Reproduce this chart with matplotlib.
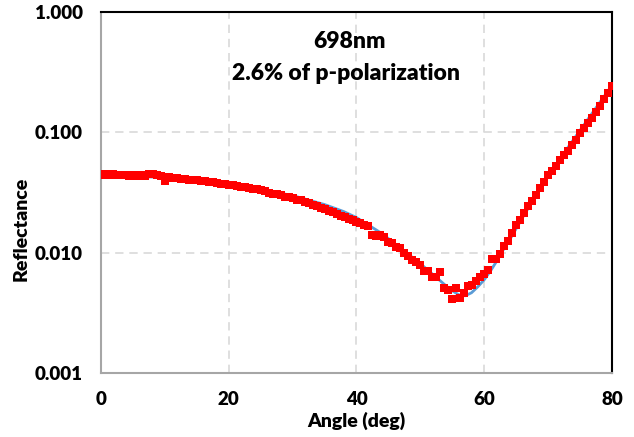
import numpy as np
import matplotlib
matplotlib.use("Agg")
import matplotlib.pyplot as plt
from matplotlib.ticker import FixedLocator, NullLocator, FuncFormatter

plt.rcParams["font.family"] = ["Lato", "DejaVu Sans"]
plt.rcParams["font.weight"] = "bold"

# measured points (angle in deg, reflectance)
angle = [0.0, 0.625, 1.25, 1.875, 2.5, 3.125, 3.75, 4.375,
         5.0, 5.625, 6.25, 6.875, 7.5, 8.125, 8.75, 9.375,
         10.0, 10.625, 11.25, 11.875, 12.5, 13.125, 13.75, 14.375,
         15.0, 15.625, 16.25, 16.875, 17.5, 18.125, 18.75, 19.375,
         20.0, 20.625, 21.25, 21.875, 22.5, 23.125, 23.75, 24.375,
         25.0, 25.625, 26.25, 26.875, 27.5, 28.125, 28.75, 29.375,
         30.0, 30.625, 31.25, 31.875, 32.5, 33.125, 33.75, 34.375,
         35.0, 35.625, 36.25, 36.875, 37.5, 38.125, 38.75, 39.375,
         40.0, 40.625, 41.25, 41.875, 42.5, 43.125, 43.75, 44.375,
         45.0, 45.625, 46.25, 46.875, 47.5, 48.125, 48.75, 49.375,
         50.0, 50.625, 51.25, 51.875, 52.5, 53.125, 53.75, 54.375,
         55.0, 55.625, 56.25, 56.875, 57.5, 58.125, 58.75, 59.375,
         60.0, 60.625, 61.25, 61.875, 62.5, 63.125, 63.75, 64.375,
         65.0, 65.625, 66.25, 66.875, 67.5, 68.125, 68.75, 69.375,
         70.0, 70.625, 71.25, 71.875, 72.5, 73.125, 73.75, 74.375,
         75.0, 75.625, 76.25, 76.875, 77.5, 78.125, 78.75, 79.375,
         80.0]
reflectance = [0.04382, 0.04467, 0.04382, 0.04467, 0.04382, 0.04424, 0.04382, 0.04299,
               0.04382, 0.04299, 0.04382, 0.04340, 0.04467, 0.04510, 0.04382, 0.04299,
               0.03906, 0.04217, 0.04137, 0.04137, 0.04058, 0.04058, 0.03981, 0.04020,
               0.03981, 0.03906, 0.03906, 0.03831, 0.03831, 0.03758, 0.03687, 0.03687,
               0.03617, 0.03617, 0.03548, 0.03481, 0.03481, 0.03415, 0.03350, 0.03350,
               0.03286, 0.03224, 0.03162, 0.03102, 0.03102, 0.03043, 0.02929, 0.02929,
               0.02873, 0.02765, 0.02765, 0.02661, 0.02610, 0.02512, 0.02464, 0.02371,
               0.02326, 0.02239, 0.02196, 0.02113, 0.02034, 0.01995, 0.01920, 0.01884,
               0.01813, 0.01778, 0.01711, 0.01679, 0.01413, 0.01386, 0.01413, 0.01359,
               0.01235, 0.01212, 0.01122, 0.01101, 0.01000, 0.00944, 0.00874, 0.00841,
               0.00794, 0.00708, 0.00708, 0.00631, 0.00631, 0.00694, 0.00511, 0.00492,
               0.00414, 0.00511, 0.00422, 0.00464, 0.00531, 0.00541, 0.00584, 0.00631,
               0.00668, 0.00722, 0.00891, 0.00891, 0.00981, 0.01144, 0.01259, 0.01468,
               0.01711, 0.01884, 0.02154, 0.02464, 0.02712, 0.03043, 0.03415, 0.03831,
               0.04382, 0.04733, 0.05210, 0.05843, 0.06431, 0.06944, 0.07792, 0.08577,
               0.09812, 0.10800, 0.11885, 0.13081, 0.14679, 0.16470, 0.18836, 0.21135,
               0.24160]

# model curve
fit_angle = [0, 10, 20, 25, 30, 35, 38, 40, 42, 44, 46, 48, 50, 52, 54, 55, 56, 57,
             58, 59, 60, 61, 62, 63, 64, 66, 68, 70, 72, 74, 76, 78, 80]
fit_refl = [0.04382, 0.04217, 0.03687, 0.03350, 0.02985, 0.02512, 0.02196, 0.01957,
            0.01679, 0.01440, 0.01189, 0.00981, 0.00810, 0.00656, 0.00531, 0.00482,
            0.00447, 0.00438, 0.00464, 0.00521, 0.00596, 0.00708, 0.00858, 0.01059,
            0.01283, 0.01957, 0.02929, 0.04299, 0.06190, 0.08743, 0.12350, 0.17445,
            0.24630]

x_ticks = [0, 20, 40, 60, 80]
y_ticks = [0.001, 0.01, 0.1, 1.0]

fig = plt.figure(figsize=(6.34, 4.37), dpi=100)
ax = fig.add_axes([0.1593, 0.1465, 0.806, 0.826])

ax.plot(fit_angle, fit_refl, color="#5B9BD5", linewidth=2.0, zorder=2)
ax.plot(angle, reflectance, linestyle="none", marker="s", markersize=5.8,
        color="#FF0000", markeredgewidth=0, zorder=3)

ax.set_yscale("log")
ax.set_xlim(0, 80)
ax.set_ylim(0.001, 1.0)
ax.xaxis.set_major_locator(FixedLocator(x_ticks))
ax.yaxis.set_major_locator(FixedLocator(y_ticks))
ax.yaxis.set_minor_locator(NullLocator())
ax.xaxis.set_minor_locator(NullLocator())
ax.yaxis.set_major_formatter(FuncFormatter(lambda v, p: "{:.3f}".format(v)))

ax.grid(True, which="major", color="#D9D9D9", linestyle=(0, (5, 3.5)), linewidth=1.2)
ax.set_axisbelow(True)

for side in ["left", "bottom"]:
    ax.spines[side].set_color("#A6A6A6")
    ax.spines[side].set_linewidth(1.5)
for side in ["top", "right"]:
    ax.spines[side].set_color("black")
    ax.spines[side].set_linewidth(1.5)

ax.tick_params(axis="both", which="both", length=0, labelsize=13.5)
ax.tick_params(axis="x", pad=13)
ax.tick_params(axis="y", pad=13)
for lab in ax.get_xticklabels() + ax.get_yticklabels():
    lab.set_fontweight("heavy")

ax.set_xlabel("Angle (deg)", fontsize=14, fontweight="heavy", labelpad=3)
ax.set_ylabel("Reflectance", fontsize=14, fontweight="heavy", labelpad=3)
ax.yaxis.set_label_coords(-0.14, 0.40)

ax.text(0.487, 0.917, "698nm", transform=ax.transAxes, ha="center", va="center",
        fontsize=16.5, fontweight="heavy")
ax.text(0.48, 0.831, "2.6% of p-polarization", transform=ax.transAxes, ha="center",
        va="center", fontsize=16.5, fontweight="heavy")

fig.savefig("out.png", dpi=100)
